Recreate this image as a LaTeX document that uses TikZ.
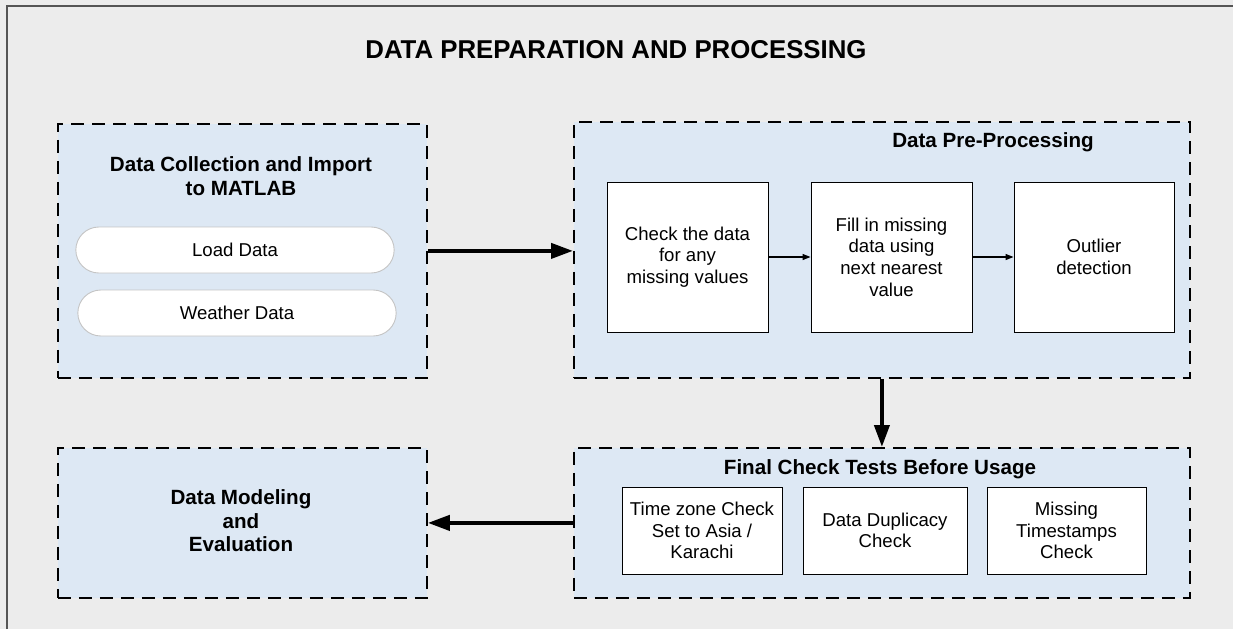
\documentclass[tikz,border=0pt]{standalone}
\usepackage{fontspec}
\setmainfont{Liberation Sans}
\usetikzlibrary{arrows.meta,shapes.misc}
\definecolor{bg}{HTML}{ECECEC}
\definecolor{panel}{HTML}{DDE8F4}
\definecolor{framec}{HTML}{555555}
\definecolor{pillline}{HTML}{C4C4C4}
\begin{document}
\begin{tikzpicture}[x=1pt,y=-1pt,
  panelbox/.style={draw=black, fill=panel, line width=1.8pt, dash pattern=on 13pt off 8pt, anchor=north west, inner sep=0pt},
  pill/.style={draw=pillline, fill=white, line width=0.9pt, rounded rectangle, minimum width=325pt, minimum height=46pt, font=\fontsize{18.6}{21.5}\selectfont},
  stepbox/.style={draw=black, fill=white, line width=0.9pt, align=center, inner sep=1pt, font=\fontsize{18.6}{21.6}\selectfont},
  heading/.style={align=center, inner sep=0pt, font=\fontsize{20.6}{23.5}\selectfont\bfseries},
  bigarrow/.style={line width=4pt, -{Triangle[length=22pt,width=15pt]}},
  thinarrow/.style={line width=1.2pt, -{Triangle[length=8pt,width=6pt]}}]
\useasboundingbox (0,0) rectangle (1233,629);
\fill[bg] (0,0) rectangle (1233,629);
\draw[framec, line width=2pt] (7,629) -- (7,6) -- (1233,6);

\node[inner sep=0pt, font=\fontsize{25.8}{30}\selectfont\bfseries] (title) at (616,50) {DATA PREPARATION AND PROCESSING};

% panels
\node[panelbox, minimum width=369pt, minimum height=254pt] (p1) at (57,123) {};
\node[panelbox, minimum width=616pt, minimum height=256pt] (p2) at (573,121) {};
\node[panelbox, minimum width=616pt, minimum height=150pt] (p3) at (573,447) {};
\node[panelbox, minimum width=369pt, minimum height=150pt] (p4) at (57,447) {};

% panel 1
\node[heading] (h1) at (241,176) {Data Collection and Import\\to MATLAB};
\node[pill] (load) at (235,250) {Load Data};
\node[pill] (weather) at (237,313) {Weather Data};

% panel 2
\node[heading] (h2) at (993,142) {Data Pre-Processing};
\node[stepbox, minimum width=161pt, minimum height=150pt] (b1) at (687.5,257) {Check the data\\for any\\missing values};
\node[stepbox, minimum width=161pt, minimum height=150pt] (b2) at (891.5,257) {Fill in missing\\data using\\next nearest\\value};
\node[stepbox, minimum width=160pt, minimum height=150pt] (b3) at (1094,257) {Outlier\\detection};
\draw[thinarrow] (b1) -- (b2);
\draw[thinarrow] (b2) -- (b3);

% panel 3
\node[heading] (h3) at (880,469) {Final Check Tests Before Usage};
\node[stepbox, minimum width=160pt, minimum height=87pt] (c1) at (702,530.5) {Time zone Check\\Set to Asia /\\Karachi};
\node[stepbox, minimum width=164pt, minimum height=87pt] (c2) at (885,530.5) {Data Duplicacy\\Check};
\node[stepbox, minimum width=159pt, minimum height=87pt] (c3) at (1066.5,530.5) {Missing\\Timestamps\\Check};

% panel 4
\node[heading] (h4) at (241,521) {Data Modeling\\and\\Evaluation};

% connectors between panels
\draw[bigarrow] (p1.east) -- (p2.west |- p1.east);
\draw[bigarrow] (p2.south) -- (p3.north);
\draw[bigarrow] (p3.west) -- (p4.east);
\end{tikzpicture}
\end{document}
